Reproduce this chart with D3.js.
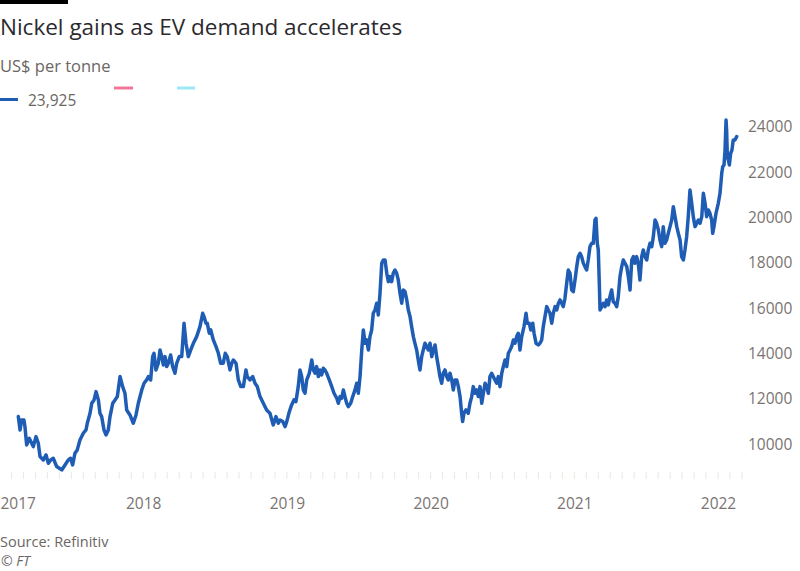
<!DOCTYPE html>
<html><head><meta charset="utf-8">
<script src="https://cdn.jsdelivr.net/npm/d3@7"></script>
<style>
body{margin:0;background:#fff;}
svg{display:block;font-family:"Open Sans",sans-serif;}
</style></head>
<body>
<svg id="chart" width="800" height="571"></svg>
<script>
// Decimal-year dates and LME nickel prices (US$ per tonne)
const dates2017 = [2017.131,2017.143,2017.154,2017.170,2017.177,2017.189,2017.207,2017.224,2017.235,2017.254,2017.270,2017.282,2017.305,2017.324,2017.340,2017.356,2017.374,2017.398,2017.416,2017.433,2017.456,2017.479,2017.495,2017.509,2017.525,2017.541,2017.560,2017.583,2017.602,2017.611,2017.630,2017.642,2017.658,2017.672,2017.688,2017.699,2017.711,2017.727,2017.741,2017.757,2017.769,2017.788,2017.804,2017.820,2017.839,2017.857,2017.873,2017.885,2017.908,2017.931,2017.950,2017.966,2017.990];
const prices2017 = [11221,10634,11073,11073,10780,9972,10266,10046,9899,10340,10046,9458,9312,9532,9165,9312,9385,9018,8944,8871,9091,9312,9385,9091,9606,9753,10193,10487,10634,10928,11368,11809,11956,12323,11956,11368,11221,10634,10413,10634,11221,11809,11956,12103,12984,12543,12250,11515,11295,10928,11295,11809,12396];

const dates2018 = [2018.006,2018.024,2018.036,2018.052,2018.066,2018.075,2018.089,2018.105,2018.117,2018.129,2018.140,2018.152,2018.164,2018.175,2018.191,2018.205,2018.221,2018.233,2018.251,2018.268,2018.284,2018.298,2018.314,2018.331,2018.349,2018.372,2018.395,2018.414,2018.423,2018.437,2018.446,2018.460,2018.470,2018.488,2018.507,2018.523,2018.539,2018.557,2018.571,2018.585,2018.604,2018.616,2018.627,2018.646,2018.662,2018.679,2018.697,2018.715,2018.724,2018.743,2018.762,2018.778,2018.794,2018.813,2018.836,2018.859,2018.882,2018.905,2018.924,2018.940,2018.952,2018.971,2018.987,2018.999];
const prices2018 = [12690,12837,12984,12837,13865,14012,13278,13572,14159,13865,13498,13865,13425,13572,13939,13425,13131,13572,13865,13865,15334,14453,13865,14159,14453,14747,15188,15775,15628,15334,15334,14895,15041,14600,14306,14012,13572,13572,14012,13865,13278,13572,13718,13572,12837,12543,12543,13278,12984,12837,12984,12690,12543,12103,11809,11515,11368,10854,11221,10928,11073,11001,10780,11001];

const dates2019 = [2019.017,2019.033,2019.049,2019.063,2019.079,2019.091,2019.103,2019.114,2019.126,2019.138,2019.156,2019.173,2019.184,2019.196,2019.207,2019.219,2019.230,2019.242,2019.253,2019.265,2019.277,2019.295,2019.312,2019.328,2019.347,2019.358,2019.370,2019.381,2019.393,2019.404,2019.416,2019.427,2019.444,2019.458,2019.474,2019.486,2019.497,2019.509,2019.521,2019.532,2019.544,2019.555,2019.567,2019.578,2019.590,2019.601,2019.613,2019.625,2019.636,2019.648,2019.660,2019.671,2019.683,2019.695,2019.706,2019.718,2019.729,2019.740,2019.752,2019.764,2019.775,2019.787,2019.799,2019.810,2019.822,2019.834,2019.845,2019.857,2019.868,2019.880,2019.891,2019.903,2019.914,2019.926,2019.938,2019.949,2019.961,2019.973,2019.984,2019.996];
const prices2019 = [11441,11735,11956,11882,12543,13278,12984,12396,12250,12837,13131,13718,13278,13131,13425,12984,13278,13057,13351,13278,13131,12837,12543,12250,12029,11809,12103,12029,12396,12103,11809,11662,11809,12103,12396,12690,12250,12984,14159,15041,14453,14600,14159,14747,15041,15775,15922,16216,15702,16656,17979,18126,18126,17538,17171,17391,17171,17538,17685,17538,17244,16656,16216,16803,16730,16363,15922,15628,15188,14747,14453,14159,13718,13278,13865,14159,14453,14306,14159,14453];

const dates2020 = [2020.008,2020.019,2020.031,2020.042,2020.054,2020.065,2020.077,2020.088,2020.100,2020.112,2020.123,2020.135,2020.147,2020.158,2020.170,2020.182,2020.193,2020.205,2020.216,2020.223,2020.232,2020.246,2020.262,2020.274,2020.286,2020.297,2020.309,2020.321,2020.332,2020.344,2020.356,2020.367,2020.379,2020.390,2020.402,2020.413,2020.425,2020.436,2020.448,2020.460,2020.471,2020.483,2020.495,2020.506,2020.518,2020.530,2020.541,2020.553,2020.564,2020.576,2020.587,2020.599,2020.610,2020.622,2020.634,2020.650,2020.664,2020.673,2020.687,2020.697,2020.711,2020.720,2020.734,2020.749,2020.761,2020.773,2020.784,2020.796,2020.808,2020.819,2020.831,2020.843,2020.854,2020.866,2020.878,2020.889,2020.901,2020.912,2020.923,2020.935,2020.947,2020.958,2020.970,2020.982,2020.993];
const prices2020 = [13865,14159,14380,13865,13425,12984,12690,13131,13278,12984,12837,13131,12837,12396,12837,12837,12543,12103,11368,11001,11368,11515,11368,11809,12103,12543,12250,12396,12103,12543,11809,12250,12690,12543,12250,12984,13131,12984,12837,12690,12984,12543,13131,13425,13718,13425,14012,14159,14306,14600,14453,14747,14895,14159,14747,15188,15775,15334,15334,15041,15334,14895,14453,14380,14453,14600,15188,15628,16069,15922,15775,15334,15775,16069,15922,16216,16363,16216,16069,16436,17097,17685,17538,16803,16730];

const dates2021 = [2021.005,2021.017,2021.028,2021.040,2021.051,2021.063,2021.074,2021.086,2021.097,2021.109,2021.121,2021.132,2021.144,2021.151,2021.160,2021.167,2021.174,2021.179,2021.191,2021.202,2021.214,2021.225,2021.237,2021.248,2021.260,2021.271,2021.283,2021.295,2021.306,2021.318,2021.330,2021.341,2021.353,2021.365,2021.376,2021.388,2021.400,2021.411,2021.422,2021.434,2021.445,2021.457,2021.469,2021.480,2021.492,2021.504,2021.515,2021.527,2021.539,2021.550,2021.562,2021.573,2021.585,2021.596,2021.608,2021.619,2021.631,2021.643,2021.654,2021.666,2021.678,2021.689,2021.701,2021.713,2021.724,2021.736,2021.747,2021.759,2021.770,2021.782,2021.793,2021.805,2021.817,2021.828,2021.840,2021.852,2021.863,2021.875,2021.887,2021.898,2021.910,2021.921,2021.933,2021.944,2021.956,2021.963,2021.972,2021.986];
const prices2021 = [17244,17832,18272,18419,18272,17979,17832,17685,18126,18713,18860,18860,19888,19962,18860,18566,17097,15922,16069,16216,16069,16363,16143,16510,16803,16289,16216,16069,16510,17391,17832,18126,17979,17832,17391,16803,18126,18272,17979,18272,17979,17244,18272,18566,18272,18126,18566,18860,18713,19154,19888,19741,19448,19007,18713,19595,18860,19007,19301,19595,19888,20476,20035,19595,19301,19007,18272,18126,18566,19154,20035,21210,20623,20035,19595,19741,19888,19741,20035,21064,20623,20035,20329,20182,19888,19301,19595,20182];

const dates2022 = [2022.002,2022.014,2022.026,2022.033,2022.042,2022.049,2022.056,2022.060,2022.065,2022.072,2022.079,2022.088,2022.097,2022.106,2022.118,2022.130];
const prices2022 = [20623,21064,21945,22239,22313,22973,24295,23855,22680,22533,22313,22826,22973,23414,23414,23561];

const yTicks = [10000,12000,14000,16000,18000,20000,22000,24000];
const xYears = [2017,2018,2019,2020,2021,2022];
const titleText = "Nickel gains as EV demand accelerates";
const subtitleText = "US$ per tonne";
const legendLabel = "23,925";
const sourceText = "Source: Refinitiv";
const creditText = "© FT";

const dates = [].concat(dates2017,dates2018,dates2019,dates2020,dates2021,dates2022);
const prices = [].concat(prices2017,prices2018,prices2019,prices2020,prices2021,prices2022);
const data = dates.map((d,i)=>({t:d,v:prices[i]}));

const svg = d3.select("#chart");
const x = d3.scaleLinear().domain([2017,2022]).range([-0.5,718]);
const y = d3.scaleLinear().domain([10000,24000]).range([444.3,126.7]);

// top black bar
svg.append("rect").attr("x",0).attr("y",0).attr("width",68).attr("height",4).attr("fill","#000");

svg.append("text").attr("x",0).attr("y",35).attr("font-size",22.5).attr("fill","#2b2a2e").text(titleText);
svg.append("text").attr("x",0).attr("y",72).attr("font-size",16.5).attr("fill","#6b6663").text(subtitleText);

// legend
svg.append("line").attr("x1",0).attr("x2",18).attr("y1",99.5).attr("y2",99.5).attr("stroke","#1f5db5").attr("stroke-width",3);
svg.append("text").attr("x",28).attr("y",106).attr("font-size",15.5).attr("fill","#6b6663").text(legendLabel);
svg.append("line").attr("x1",114).attr("x2",133).attr("y1",88).attr("y2",88).attr("stroke","#f0769a").attr("stroke-width",3);
svg.append("line").attr("x1",177).attr("x2",195).attr("y1",88).attr("y2",88).attr("stroke","#9ce8f5").attr("stroke-width",3);

// minor monthly ticks
const months = d3.range(2017, 2022.2, 1/12);
svg.append("g").selectAll("line").data(months).join("line")
  .attr("x1",d=>x(d)).attr("x2",d=>x(d))
  .attr("y1",472).attr("y2",479)
  .attr("stroke","#ebe8e5").attr("stroke-width",1);

// x axis
const xAxis = svg.append("g").attr("transform","translate(0,480)")
  .call(d3.axisBottom(x).tickValues(xYears).tickFormat(d3.format("d")).tickSize(0).tickPadding(18));
xAxis.select(".domain").remove();
xAxis.selectAll("text").attr("font-size",15.5).attr("fill","#7a7471").attr("font-family","Open Sans");
xAxis.selectAll(".tick").each(function(d){
  const t = d3.select(this).select("text");
  const w = this.querySelector("text").getBBox().width;
  if (x(d) - w/2 < 0) t.attr("text-anchor","start").attr("x", -x(d));
});

// y axis
const yAxis = svg.append("g").attr("transform","translate(740,0)")
  .call(d3.axisRight(y).tickValues(yTicks).tickFormat(d3.format("d")).tickSize(0).tickPadding(8));
yAxis.select(".domain").remove();
yAxis.selectAll("text").attr("font-size",15.5).attr("fill","#7a7471").attr("font-family","Open Sans");

// line
svg.append("path").datum(data)
  .attr("fill","none").attr("stroke","#1f5db5").attr("stroke-width",3.5)
  .attr("stroke-linejoin","round").attr("stroke-linecap","round")
  .attr("d", d3.line().x(d=>x(d.t)).y(d=>y(d.v)));

svg.append("text").attr("x",0).attr("y",547).attr("font-size",14.5).attr("fill","#6b6663").text(sourceText);
svg.append("text").attr("x",1).attr("y",566).attr("font-size",14).attr("font-style","italic").attr("fill","#6b6663").text(creditText);
</script>
</body></html>
